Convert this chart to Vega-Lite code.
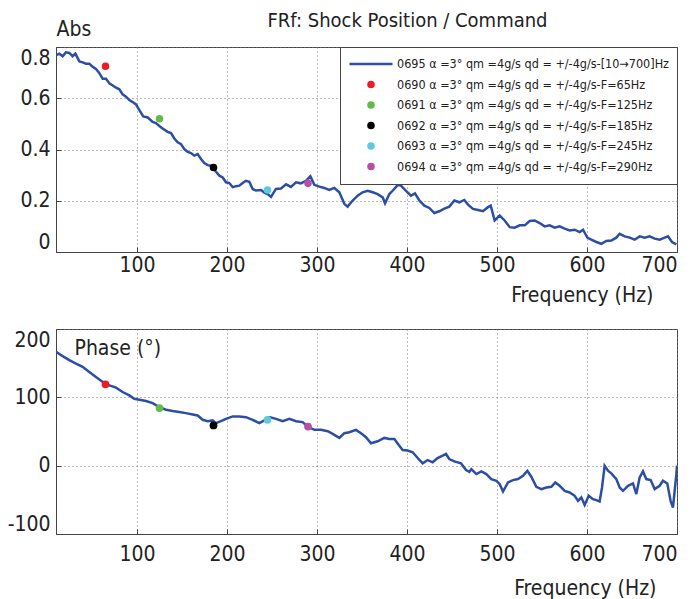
{
  "$schema": "https://vega.github.io/schema/vega-lite/v6.json",
  "padding": {"left": 5, "top": 10, "right": 5, "bottom": 0},
  "background": "white",
  "config": {
    "font": "Liberation Sans Narrow, DejaVu Sans Condensed, Liberation Sans, sans-serif",
    "view": {"stroke": "#444", "strokeWidth": 1},
    "axis": {
      "grid": true, "gridDash": [1, 3], "gridColor": "#777", "gridWidth": 1,
      "domainColor": "#444", "tickColor": "#444", "tickSize": -5,
      "labelFontSize": 21, "labelColor": "#222", "labelFont": "Liberation Sans Narrow, DejaVu Sans Condensed, Liberation Sans, sans-serif",
      "titleFontSize": 21, "titleFontWeight": "normal", "titleColor": "#222", "titleFont": "Liberation Sans Narrow, DejaVu Sans Condensed, Liberation Sans, sans-serif",
      "labelFlush": true
    },
    "axisX": {"labelPadding": 7},
    "axisY": {"labelPadding": 11, "minExtent": 50, "maxExtent": 50}
  },
  "datasets": {
    "amp": [
      {"f": 10, "v": 0.767}, {"f": 13.7, "v": 0.774}, {"f": 17.4, "v": 0.764}, {"f": 21, "v": 0.779}, {"f": 24.8, "v": 0.777},
      {"f": 28.5, "v": 0.764}, {"f": 31.5, "v": 0.774}, {"f": 36, "v": 0.744}, {"f": 39.6, "v": 0.74}, {"f": 43.3, "v": 0.735},
      {"f": 47, "v": 0.735}, {"f": 50, "v": 0.725}, {"f": 54.4, "v": 0.714}, {"f": 58, "v": 0.699}, {"f": 61.9, "v": 0.676},
      {"f": 65.6, "v": 0.676}, {"f": 69.3, "v": 0.658}, {"f": 73, "v": 0.65}, {"f": 76.7, "v": 0.641}, {"f": 80.4, "v": 0.635},
      {"f": 84, "v": 0.615}, {"f": 87.8, "v": 0.606}, {"f": 91.5, "v": 0.593}, {"f": 95.2, "v": 0.585}, {"f": 98.9, "v": 0.576},
      {"f": 102.6, "v": 0.554}, {"f": 107, "v": 0.529}, {"f": 111.9, "v": 0.525}, {"f": 117.4, "v": 0.508}, {"f": 121, "v": 0.503},
      {"f": 124.8, "v": 0.492}, {"f": 128.5, "v": 0.482}, {"f": 134, "v": 0.469}, {"f": 137.8, "v": 0.464}, {"f": 141.5, "v": 0.443},
      {"f": 145.2, "v": 0.428}, {"f": 148.9, "v": 0.421}, {"f": 152.6, "v": 0.401}, {"f": 156.3, "v": 0.391}, {"f": 160, "v": 0.386},
      {"f": 163.7, "v": 0.376}, {"f": 167.4, "v": 0.382}, {"f": 171.1, "v": 0.363}, {"f": 174.8, "v": 0.347}, {"f": 178.5, "v": 0.339},
      {"f": 182.2, "v": 0.337}, {"f": 187.8, "v": 0.313}, {"f": 191.5, "v": 0.298}, {"f": 195.2, "v": 0.291}, {"f": 198.9, "v": 0.272},
      {"f": 202.6, "v": 0.269}, {"f": 206.3, "v": 0.253}, {"f": 210, "v": 0.257}, {"f": 213.7, "v": 0.259}, {"f": 217.4, "v": 0.269},
      {"f": 221, "v": 0.278}, {"f": 224.8, "v": 0.274}, {"f": 228.5, "v": 0.246}, {"f": 232, "v": 0.24}, {"f": 237.8, "v": 0.242},
      {"f": 241.5, "v": 0.232}, {"f": 245.2, "v": 0.226}, {"f": 248.9, "v": 0.215}, {"f": 254.4, "v": 0.246}, {"f": 260, "v": 0.248},
      {"f": 265.6, "v": 0.264}, {"f": 271, "v": 0.254}, {"f": 276.7, "v": 0.272}, {"f": 282, "v": 0.268}, {"f": 287.8, "v": 0.278},
      {"f": 292.6, "v": 0.296}, {"f": 297, "v": 0.262}, {"f": 302.6, "v": 0.255}, {"f": 308, "v": 0.25}, {"f": 313.7, "v": 0.242},
      {"f": 319.3, "v": 0.25}, {"f": 324.8, "v": 0.233}, {"f": 330.4, "v": 0.188}, {"f": 334, "v": 0.177}, {"f": 339.6, "v": 0.201},
      {"f": 345.2, "v": 0.22}, {"f": 350.7, "v": 0.233}, {"f": 356.3, "v": 0.239}, {"f": 361.9, "v": 0.233}, {"f": 367.4, "v": 0.226},
      {"f": 373, "v": 0.213}, {"f": 375.6, "v": 0.19}, {"f": 380.4, "v": 0.226}, {"f": 384, "v": 0.239}, {"f": 389.6, "v": 0.261},
      {"f": 393.3, "v": 0.259}, {"f": 398.9, "v": 0.239}, {"f": 404.4, "v": 0.22}, {"f": 408.9, "v": 0.229}, {"f": 413.7, "v": 0.201},
      {"f": 419.3, "v": 0.181}, {"f": 424.8, "v": 0.172}, {"f": 430.4, "v": 0.152}, {"f": 435.9, "v": 0.159}, {"f": 441.5, "v": 0.169},
      {"f": 447, "v": 0.177}, {"f": 452.6, "v": 0.201}, {"f": 458.1, "v": 0.194}, {"f": 463.7, "v": 0.203}, {"f": 467.8, "v": 0.185},
      {"f": 473.3, "v": 0.168}, {"f": 478.9, "v": 0.164}, {"f": 484.4, "v": 0.159}, {"f": 490, "v": 0.175}, {"f": 493, "v": 0.181},
      {"f": 497.4, "v": 0.123}, {"f": 503, "v": 0.142}, {"f": 508.5, "v": 0.123}, {"f": 514.1, "v": 0.097}, {"f": 519.6, "v": 0.095},
      {"f": 525.2, "v": 0.104}, {"f": 530.8, "v": 0.104}, {"f": 536.3, "v": 0.121}, {"f": 541.9, "v": 0.123}, {"f": 547.4, "v": 0.113},
      {"f": 553, "v": 0.1}, {"f": 558.5, "v": 0.104}, {"f": 564.1, "v": 0.095}, {"f": 569.6, "v": 0.1}, {"f": 575.2, "v": 0.091},
      {"f": 580.8, "v": 0.084}, {"f": 586.3, "v": 0.087}, {"f": 591.9, "v": 0.078}, {"f": 595.6, "v": 0.087}, {"f": 600.4, "v": 0.056},
      {"f": 604.8, "v": 0.048}, {"f": 610.4, "v": 0.039}, {"f": 615.9, "v": 0.032}, {"f": 621.5, "v": 0.043}, {"f": 627, "v": 0.045},
      {"f": 632.6, "v": 0.056}, {"f": 636.3, "v": 0.071}, {"f": 641.9, "v": 0.061}, {"f": 647.4, "v": 0.056}, {"f": 653, "v": 0.048},
      {"f": 658.5, "v": 0.061}, {"f": 664.1, "v": 0.056}, {"f": 669.6, "v": 0.061}, {"f": 675.2, "v": 0.052}, {"f": 680.8, "v": 0.048},
      {"f": 686.3, "v": 0.056}, {"f": 690, "v": 0.061}, {"f": 694.4, "v": 0.039}, {"f": 699.3, "v": 0.03}
    ],
    "phase": [
      {"f": 10, "v": 166.6}, {"f": 17.4, "v": 160.3}, {"f": 24.8, "v": 154.4}, {"f": 32.2, "v": 149.4}, {"f": 39.6, "v": 144.6},
      {"f": 47, "v": 137.2}, {"f": 54.4, "v": 129.9}, {"f": 61.9, "v": 122.5}, {"f": 69.3, "v": 117.6}, {"f": 76.7, "v": 114.1},
      {"f": 84, "v": 107.8}, {"f": 91.5, "v": 102.9}, {"f": 97, "v": 98}, {"f": 102.6, "v": 96.5}, {"f": 110, "v": 94.6},
      {"f": 117.4, "v": 91.6}, {"f": 124.8, "v": 85.7}, {"f": 132.2, "v": 81.8}, {"f": 139.6, "v": 79.9}, {"f": 147, "v": 78.4},
      {"f": 154.4, "v": 76.9}, {"f": 161.9, "v": 75}, {"f": 167.4, "v": 73.5}, {"f": 173, "v": 67.1}, {"f": 178.5, "v": 65.1},
      {"f": 184, "v": 66.2}, {"f": 187.8, "v": 62.2}, {"f": 193.3, "v": 65.1}, {"f": 198.9, "v": 68.5}, {"f": 206.3, "v": 72.1},
      {"f": 213.7, "v": 72.1}, {"f": 221, "v": 71}, {"f": 228.5, "v": 67.1}, {"f": 235.9, "v": 62.2}, {"f": 241.5, "v": 66.2},
      {"f": 247, "v": 71}, {"f": 254.4, "v": 68.5}, {"f": 261.9, "v": 65.1}, {"f": 269.3, "v": 68.5}, {"f": 276.7, "v": 65.1},
      {"f": 284, "v": 63.7}, {"f": 289.6, "v": 57.3}, {"f": 297, "v": 52.4}, {"f": 304.4, "v": 52.4}, {"f": 311.9, "v": 50.4},
      {"f": 317.4, "v": 46.5}, {"f": 324.8, "v": 40.6}, {"f": 330.4, "v": 47.5}, {"f": 335.9, "v": 49}, {"f": 343.3, "v": 52.4},
      {"f": 348.9, "v": 47.5}, {"f": 354.4, "v": 41.6}, {"f": 360, "v": 32.8}, {"f": 367.4, "v": 35.7}, {"f": 374.8, "v": 40.6},
      {"f": 380.4, "v": 39.1}, {"f": 386, "v": 39.1}, {"f": 390.4, "v": 30.9}, {"f": 395.2, "v": 22.9}, {"f": 400.7, "v": 22.1},
      {"f": 406.3, "v": 19.6}, {"f": 411.9, "v": 11.2}, {"f": 417.4, "v": 3.4}, {"f": 423, "v": 8.2}, {"f": 428.5, "v": 4.9},
      {"f": 434, "v": 11.2}, {"f": 439.6, "v": 14.7}, {"f": 443.3, "v": 17.1}, {"f": 447, "v": 9.7}, {"f": 452.6, "v": 6.3},
      {"f": 460, "v": 3.4}, {"f": 465.6, "v": -6.5}, {"f": 469.3, "v": -9}, {"f": 471.5, "v": -5}, {"f": 477, "v": -12.3},
      {"f": 482.6, "v": -8.4}, {"f": 488.1, "v": -12.3}, {"f": 493.7, "v": -19.6}, {"f": 499.3, "v": -22.1}, {"f": 503, "v": -27},
      {"f": 506.7, "v": -37.8}, {"f": 512.2, "v": -24.5}, {"f": 517.8, "v": -21.1}, {"f": 523.3, "v": -19.6}, {"f": 528.9, "v": -14.7},
      {"f": 533.7, "v": -7.4}, {"f": 538.1, "v": -16.2}, {"f": 543.7, "v": -30.9}, {"f": 549.3, "v": -34.3}, {"f": 554.8, "v": -31.9},
      {"f": 560.4, "v": -30.9}, {"f": 564.8, "v": -24.5}, {"f": 569.6, "v": -29.4}, {"f": 575.2, "v": -36.8}, {"f": 580.7, "v": -39.2},
      {"f": 586.3, "v": -44.1}, {"f": 590, "v": -51.5}, {"f": 593.7, "v": -46.6}, {"f": 597.4, "v": -57.4}, {"f": 601.9, "v": -44.1},
      {"f": 606.7, "v": -49}, {"f": 610.4, "v": -50.5}, {"f": 614, "v": -52.5}, {"f": 616.7, "v": -31.9}, {"f": 619.6, "v": 0},
      {"f": 623.3, "v": -7.4}, {"f": 627, "v": -11.3}, {"f": 632.6, "v": -19.6}, {"f": 636.3, "v": -31.9}, {"f": 640, "v": -36.8},
      {"f": 645.6, "v": -29.4}, {"f": 651.1, "v": -26}, {"f": 654.8, "v": -41.6}, {"f": 658.5, "v": -17.2}, {"f": 662.2, "v": -8.4},
      {"f": 665.9, "v": -19.6}, {"f": 670.7, "v": -21.1}, {"f": 675.2, "v": -34.3}, {"f": 680.7, "v": -29.4}, {"f": 684.4, "v": -22.1},
      {"f": 689.2, "v": -26}, {"f": 692.9, "v": -51.5}, {"f": 695.5, "v": -61.3}, {"f": 699.3, "v": -12.3}, {"f": 700, "v": 0}
    ],
    "pts": [
      {"series": "0690 α =3° qm =4g/s qd = +/-4g/s-F=65Hz", "f": 65, "abs": 0.725, "phase": 119},
      {"series": "0691 α =3° qm =4g/s qd = +/-4g/s-F=125Hz", "f": 125, "abs": 0.52, "phase": 84.3},
      {"series": "0692 α =3° qm =4g/s qd = +/-4g/s-F=185Hz", "f": 185, "abs": 0.33, "phase": 58.8},
      {"series": "0693 α =3° qm =4g/s qd = +/-4g/s-F=245Hz", "f": 245, "abs": 0.242, "phase": 67.1},
      {"series": "0694 α =3° qm =4g/s qd = +/-4g/s-F=290Hz", "f": 290, "abs": 0.268, "phase": 57.3}
    ]
  },
  "resolve": {
    "scale": {"color": "independent", "stroke": "independent", "shape": "independent", "size": "independent"},
    "legend": {"color": "independent", "stroke": "independent", "shape": "independent", "size": "independent"}
  },
  "spacing": 22,
  "vconcat": [
    {
      "width": 621,
      "height": 205,
      "title": {"text": "FRf: Shock Position / Command", "anchor": "middle", "dx": 41, "dy": 12.5, "fontSize": 20, "fontWeight": "normal", "color": "#222", "offset": 0},
      "layer": [
        {
          "data": {"name": "amp"},
          "mark": {"type": "line", "color": "#2c4ea3", "strokeWidth": 2.5, "clip": true},
          "encoding": {
            "x": {"field": "f", "type": "quantitative", "scale": {"domain": [10, 700], "nice": false},
                  "axis": {"values": [100, 200, 300, 400, 500, 600, 700], "title": "Frequency (Hz)", "titleX": 597, "titleY": 43.5, "titleAlign": "right", "titleBaseline": "middle"}},
            "y": {"field": "v", "type": "quantitative", "scale": {"domain": [0, 0.8], "nice": false},
                  "axis": {"values": [0, 0.2, 0.4, 0.6, 0.8], "format": "~g", "title": "Abs", "titleAngle": 0, "titleX": 0, "titleY": -18, "titleAlign": "left", "titleBaseline": "middle"}}
          }
        },
        {
          "data": {"name": "pts"},
          "mark": {"type": "point", "filled": true, "strokeWidth": 2.5, "opacity": 1},
          "encoding": {
            "x": {"field": "f", "type": "quantitative"},
            "y": {"field": "abs", "type": "quantitative"},
            "color": {
              "field": "series", "type": "nominal",
              "scale": {
                "domain": ["0695 α =3° qm =4g/s qd = +/-4g/s-[10→700]Hz", "0690 α =3° qm =4g/s qd = +/-4g/s-F=65Hz", "0691 α =3° qm =4g/s qd = +/-4g/s-F=125Hz", "0692 α =3° qm =4g/s qd = +/-4g/s-F=185Hz", "0693 α =3° qm =4g/s qd = +/-4g/s-F=245Hz", "0694 α =3° qm =4g/s qd = +/-4g/s-F=290Hz"],
                "range": ["#2c4ea3", "#ec1c24", "#62bb46", "#000000", "#5ccbe0", "#b84ea6"]
              },
              "legend": {
                "title": null, "orient": "top-right", "offset": 0,
                "fillColor": "white", "strokeColor": "#444", "padding": 8,
                "labelFontSize": 12.5, "labelColor": "#222", "labelLimit": 400, "labelOffset": 3,
                "clipHeight": 18, "rowPadding": 2.5, "symbolOffset": 0, "symbolStrokeWidth": 2.5
              }
            },
            "stroke": {
              "field": "series", "type": "nominal",
              "scale": {
                "domain": ["0695 α =3° qm =4g/s qd = +/-4g/s-[10→700]Hz", "0690 α =3° qm =4g/s qd = +/-4g/s-F=65Hz", "0691 α =3° qm =4g/s qd = +/-4g/s-F=125Hz", "0692 α =3° qm =4g/s qd = +/-4g/s-F=185Hz", "0693 α =3° qm =4g/s qd = +/-4g/s-F=245Hz", "0694 α =3° qm =4g/s qd = +/-4g/s-F=290Hz"],
                "range": ["#2c4ea3", "#ec1c24", "#62bb46", "#000000", "#5ccbe0", "#b84ea6"]
              },
              "legend": {"title": null}
            },
            "shape": {
              "field": "series", "type": "nominal",
              "scale": {
                "domain": ["0695 α =3° qm =4g/s qd = +/-4g/s-[10→700]Hz", "0690 α =3° qm =4g/s qd = +/-4g/s-F=65Hz", "0691 α =3° qm =4g/s qd = +/-4g/s-F=125Hz", "0692 α =3° qm =4g/s qd = +/-4g/s-F=185Hz", "0693 α =3° qm =4g/s qd = +/-4g/s-F=245Hz", "0694 α =3° qm =4g/s qd = +/-4g/s-F=290Hz"],
                "range": ["stroke", "circle", "circle", "circle", "circle", "circle"]
              },
              "legend": {"title": null}
            },
            "size": {
              "field": "series", "type": "nominal",
              "scale": {
                "type": "ordinal",
                "domain": ["0695 α =3° qm =4g/s qd = +/-4g/s-[10→700]Hz", "0690 α =3° qm =4g/s qd = +/-4g/s-F=65Hz", "0691 α =3° qm =4g/s qd = +/-4g/s-F=125Hz", "0692 α =3° qm =4g/s qd = +/-4g/s-F=185Hz", "0693 α =3° qm =4g/s qd = +/-4g/s-F=245Hz", "0694 α =3° qm =4g/s qd = +/-4g/s-F=290Hz"],
                "range": [1850, 26, 26, 26, 26, 26]
              },
              "legend": {"title": null}
            }
          }
        }
      ]
    },
    {
      "width": 621,
      "height": 205,
      "layer": [
        {
          "data": {"name": "phase"},
          "mark": {"type": "line", "color": "#2c4ea3", "strokeWidth": 2.5, "clip": true},
          "encoding": {
            "x": {"field": "f", "type": "quantitative", "scale": {"domain": [10, 700], "nice": false},
                  "axis": {"values": [100, 200, 300, 400, 500, 600, 700], "title": "Frequency (Hz)", "titleX": 600, "titleY": 54, "titleAlign": "right", "titleBaseline": "middle", "labelPadding": 14}},
            "y": {"field": "v", "type": "quantitative", "scale": {"domain": [-100, 200], "nice": false},
                  "axis": {"values": [-100, 0, 100, 200], "labelExpr": "'' + datum.value", "title": "Phase (°)", "titleAngle": 0, "titleX": 18, "titleY": 19, "titleAlign": "left", "titleBaseline": "middle"}}
          }
        },
        {
          "data": {"name": "pts"},
          "mark": {"type": "point", "filled": true, "size": 60, "opacity": 1},
          "encoding": {
            "x": {"field": "f", "type": "quantitative"},
            "y": {"field": "phase", "type": "quantitative"},
            "color": {
              "field": "series", "type": "nominal",
              "scale": {
                "domain": ["0690 α =3° qm =4g/s qd = +/-4g/s-F=65Hz", "0691 α =3° qm =4g/s qd = +/-4g/s-F=125Hz", "0692 α =3° qm =4g/s qd = +/-4g/s-F=185Hz", "0693 α =3° qm =4g/s qd = +/-4g/s-F=245Hz", "0694 α =3° qm =4g/s qd = +/-4g/s-F=290Hz"],
                "range": ["#ec1c24", "#62bb46", "#000000", "#5ccbe0", "#b84ea6"]
              },
              "legend": null
            }
          }
        }
      ]
    }
  ]
}
